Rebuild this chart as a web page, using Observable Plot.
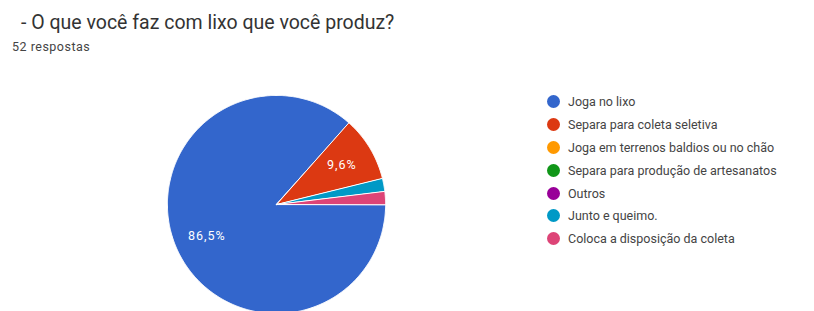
<!DOCTYPE html>
<html>
<head>
<meta charset="utf-8">
<script src="https://cdn.jsdelivr.net/npm/d3@7"></script>
<script src="https://cdn.jsdelivr.net/npm/@observablehq/plot@0.6"></script>
<style>
  html, body { margin: 0; padding: 0; background: #fff; }
  #wrap { position: relative; width: 814px; height: 311px; overflow: hidden; font-family: Roboto, "Liberation Sans", sans-serif; }
  #title { position: absolute; left: 21px; top: 11px; font-size: 19.5px; color: #333; white-space: nowrap; }
  #sub { position: absolute; left: 12px; top: 39px; font-size: 12.5px; letter-spacing: 0.5px; color: #444; white-space: nowrap; }
  #pie { position: absolute; left: 156px; top: 84px; }
  #legend { position: absolute; left: 547px; top: 90.5px; font-size: 12.5px; color: #444; }
  .row { display: flex; align-items: center; height: 22.8px; white-space: nowrap; }
  .sw { width: 13px; height: 13px; border-radius: 50%; margin-right: 8px; flex: none; }
</style>
</head>
<body>
<div id="wrap">
  <div id="title">- O que você faz com lixo que você produz?</div>
  <div id="sub">52 respostas</div>
  <div id="pie"></div>
  <div id="legend"></div>
</div>
<script>
const categories = [
  "Joga no lixo",
  "Separa para coleta seletiva",
  "Joga em terrenos baldios ou no chão",
  "Separa para produção de artesanatos",
  "Outros",
  "Junto e queimo.",
  "Coloca a disposição da coleta"
];
const counts = [45, 5, 0, 0, 0, 1, 1];
const colors = ["#3366cc", "#dc3912", "#ff9900", "#109618", "#990099", "#0099c6", "#dd4477"];

const total = d3.sum(counts);
const data = categories.map((name, i) => ({name, count: counts[i]}));

// pie angles: start at 3 o'clock, clockwise
const arcs = d3.pie().sort(null).value(d => d.count)
  .startAngle(Math.PI / 2).endAngle(Math.PI / 2 + 2 * Math.PI)(data);

const slicePts = [];
for (const a of arcs) {
  if (a.data.count <= 0) continue;
  const n = Math.max(2, Math.ceil((a.endAngle - a.startAngle) / 0.01));
  slicePts.push({name: a.data.name, x: 0, y: 0});
  for (let k = 0; k <= n; k++) {
    const t = a.startAngle + (a.endAngle - a.startAngle) * k / n;
    slicePts.push({name: a.data.name, x: Math.sin(t), y: Math.cos(t)});
  }
}

const labels = arcs.filter(a => a.data.count / total > 0.05).map(a => {
  const m = (a.startAngle + a.endAngle) / 2;
  return {
    x: 0.7 * Math.sin(m),
    y: 0.7 * Math.cos(m),
    text: (a.data.count / total * 100).toFixed(1).replace(".", ",") + "%"
  };
});

const plot = Plot.plot({
  width: 240,
  height: 240,
  margin: 0,
  x: {domain: [-1.1, 1.1], axis: null},
  y: {domain: [-1.1, 1.1], axis: null},
  color: {domain: categories, range: colors},
  style: {background: "transparent", fontFamily: "Roboto, sans-serif"},
  marks: [
    Plot.line(slicePts, {x: "x", y: "y", z: "name", fill: "name", stroke: "white", strokeWidth: 1, curve: "linear-closed"}),
    Plot.text(labels, {x: "x", y: "y", text: "text", fill: "white", fontSize: 12.5, style: "letter-spacing:1px"})
  ]
});
plot.querySelectorAll("text").forEach(t => t.style.letterSpacing = "1px");
document.getElementById("pie").appendChild(plot);

const legend = document.getElementById("legend");
categories.forEach((c, i) => {
  const row = document.createElement("div");
  row.className = "row";
  const sw = document.createElement("span");
  sw.className = "sw";
  sw.style.background = colors[i];
  const tx = document.createElement("span");
  tx.textContent = c;
  row.appendChild(sw);
  row.appendChild(tx);
  legend.appendChild(row);
});
</script>
</body>
</html>
